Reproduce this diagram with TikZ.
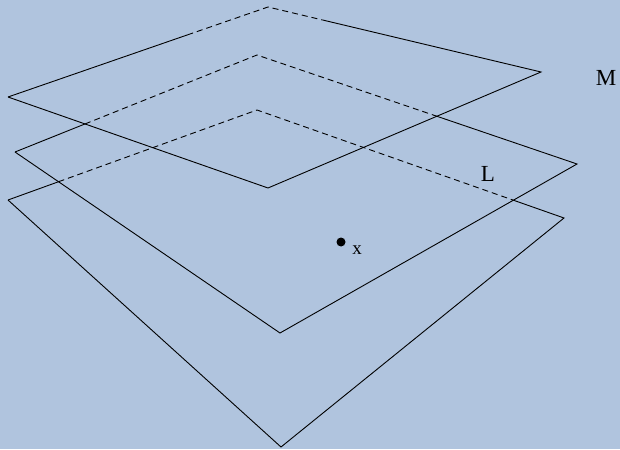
\documentclass[tikz,border=0pt]{standalone}
\usepackage{fontspec}
\setmainfont{Liberation Serif}
\usepackage{xcolor}
\usepackage{tikz}
\usetikzlibrary{calc}
\definecolor{sky}{HTML}{B0C4DE}

\begin{document}
\begin{tikzpicture}[x=1pt, y=-1pt,
    edge/.style={line width=0.9pt},
    hidden/.style={line width=0.9pt, dash pattern=on 6pt off 4pt},
    lbl/.style={font=\fontsize{23}{23}\selectfont, inner sep=0pt},
    small/.style={font=\fontsize{19}{19}\selectfont, inner sep=0pt}
  ]
  \fill[sky] (0,0) rectangle (620,449);

  % Top plane
  \coordinate (ml) at (8,97);
  \coordinate (mb) at (268,7);
  \coordinate (mr) at (541,72);
  \coordinate (mf) at (268,188);
  \coordinate (mcut1) at ($(ml)!0.69!(mb)$);
  \coordinate (mcut2) at ($(mb)!0.2!(mr)$);
  \draw[edge] (ml) -- (mcut1);
  \draw[hidden] (mcut1) -- (mb) -- (mcut2);
  \draw[edge] (mcut2) -- (mr) -- (mf) -- (ml);

  % Middle plane
  \coordinate (ll) at (15,152);
  \coordinate (lb) at (257,55);
  \coordinate (lr) at (577,164);
  \coordinate (lf) at (280,333);
  \coordinate (lcut1) at (intersection of ll--lb and ml--mf);
  \coordinate (lcut2) at (intersection of lb--lr and mf--mr);
  \draw[edge] (ll) -- (lcut1);
  \draw[hidden] (lcut1) -- (lb) -- (lcut2);
  \draw[edge] (lcut2) -- (lr) -- (lf) -- (ll);

  % Bottom plane
  \coordinate (bl) at (8,200);
  \coordinate (bb) at (257,110);
  \coordinate (br) at (564,218);
  \coordinate (bf) at (281,447);
  \coordinate (bcut1) at (intersection of bl--bb and ll--lf);
  \coordinate (bcut2) at (intersection of bb--br and lf--lr);
  \draw[edge] (bl) -- (bcut1);
  \draw[hidden] (bcut1) -- (bb) -- (bcut2);
  \draw[edge] (bcut2) -- (br) -- (bf) -- (bl);

  % Labels
  \node[lbl] (mname) at (606,78) {M};
  \node[lbl] (lname) at (488,174) {L};
  \node[circle, fill, inner sep=0pt, minimum size=9pt] (xdot) at (341,242) {};
  \node[small] (xname) at (357,250) {x};
\end{tikzpicture}
\end{document}
